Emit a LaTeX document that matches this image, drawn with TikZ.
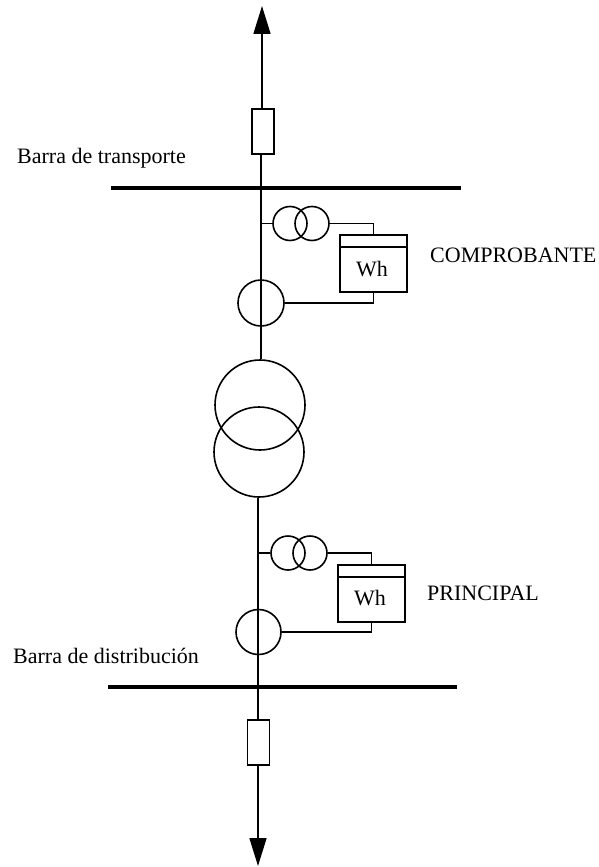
\documentclass[tikz,border=0pt]{standalone}
\usepackage{fontspec}
\setmainfont{Liberation Serif}
\usetikzlibrary{arrows.meta}
\tikzset{
  x=1pt,y=-1pt,
  wire/.style={line width=1.6pt,black},
  bus/.style={line width=4.2pt,black},
  ring/.style={circle,draw=black,line width=1.6pt,inner sep=0pt},
  fusebox/.style={rectangle,draw=black,fill=white,line width=1.6pt,inner sep=0pt,minimum width=22pt,minimum height=45pt},
  meterbox/.style={rectangle,draw=black,line width=1.6pt,inner sep=0pt,minimum width=67pt,minimum height=57pt},
  lbl/.style={inner sep=0pt,anchor=base west,font=\fontsize{22}{26}\selectfont},
  wh/.style={inner sep=0pt,anchor=base,font=\fontsize{22}{26}\selectfont},
  tipped/.style={-{Triangle[length=28pt,width=17pt]}},
}
\begin{document}
\begin{tikzpicture}
\useasboundingbox (0,0) rectangle (599,867);
% upper part
\coordinate (topEnd) at (262,6);
\node[fusebox] (fuseA) at (263,131.5) {};
\coordinate (busAw) at (111,188);
\coordinate (busAe) at (461,188);
\coordinate (busAc) at (261,188);
\node[ring,minimum size=34pt] (vtAl) at (290,223.5) {};
\node[ring,minimum size=34pt] (vtAr) at (312,223.5) {};
\node[ring,minimum size=46pt] (ctA) at (261,303) {};
\node[meterbox] (mA) at (373.5,263.5) {};
\node[wh] (whA) at (372,276) {Wh};
\coordinate (tapA) at (261,223.5);
\coordinate (headAw) at (mA.west |- 0,247);
\coordinate (headAe) at (mA.east |- 0,247);
\coordinate (outA) at (373.5,223.5);
% transformer
\node[ring,minimum size=90pt] (trU) at (260,405) {};
\node[ring,minimum size=90pt] (trL) at (259,452) {};
% lower part
\coordinate (busBw) at (108,687);
\coordinate (busBe) at (457,687);
\coordinate (busBc) at (258,687);
\node[ring,minimum size=34pt] (vtBl) at (288,553) {};
\node[ring,minimum size=34pt] (vtBr) at (310,553) {};
\node[ring,minimum size=45pt] (ctB) at (258.5,632) {};
\node[meterbox] (mB) at (371.5,593.5) {};
\node[wh] (whB) at (370,605) {Wh};
\coordinate (tapB) at (258,553);
\coordinate (headBw) at (mB.west |- 0,577);
\coordinate (headBe) at (mB.east |- 0,577);
\coordinate (outB) at (371.5,553);
\node[fusebox] (fuseB) at (258.5,742.5) {};
\coordinate (botEnd) at (258,866);
% connectors
\draw[wire,tipped] (topEnd |- fuseA.north) -- (topEnd);
\draw[wire] (busAc |- fuseA.south) -- (busAc);
\draw[bus] (busAw) -- (busAe);
\draw[wire] (busAc) -- (busAc |- trU.north);
\draw[wire] (tapA) -- (vtAl.west);
\draw[wire] (vtAr.east) -- (outA) -- (mA.north);
\draw[wire] (headAw) -- (headAe);
\draw[wire] (mA.south) |- (ctA.east);
\draw[wire] (busBc |- trL.south) -- (busBc);
\draw[bus] (busBw) -- (busBe);
\draw[wire] (tapB) -- (vtBl.west);
\draw[wire] (vtBr.east) -- (outB) -- (mB.north);
\draw[wire] (headBw) -- (headBe);
\draw[wire] (mB.south) |- (ctB.east);
\draw[wire] (busBc) -- (busBc |- fuseB.north);
\draw[wire,tipped] (botEnd |- fuseB.south) -- (botEnd);
% labels
\node[lbl] (t1) at (17,163) {Barra de transporte};
\node[lbl] (t2) at (430,262) {COMPROBANTE};
\node[lbl] (t3) at (427,600) {PRINCIPAL};
\node[lbl] (t4) at (13,663) {Barra de distribución};
\end{tikzpicture}
\end{document}
